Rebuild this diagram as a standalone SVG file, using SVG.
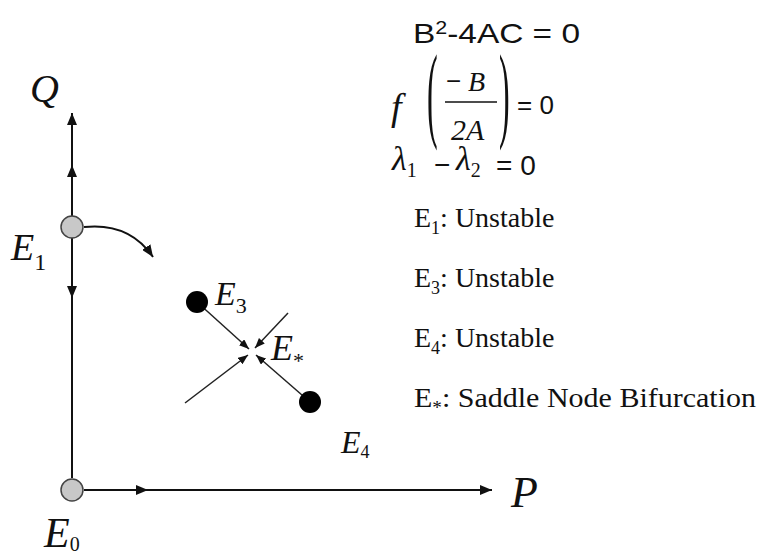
<svg xmlns="http://www.w3.org/2000/svg" width="759" height="558" viewBox="0 0 759 558">
<style>
.ax{stroke:#111;stroke-width:2;fill:none}
.ln{stroke:#222;stroke-width:1.5;fill:none}
.lbl{font-family:"Liberation Serif",serif;font-style:italic;fill:#111}
.sub{font-family:"Liberation Serif",serif;fill:#111}
.sans{font-family:"Liberation Sans",Arial,sans-serif;fill:#111}
.ser{font-family:"Liberation Serif",serif;fill:#111}
.gray{fill:#c8c8c8;stroke:#444;stroke-width:1.5}
.blk{fill:#000}
</style>
<defs>
<marker id="ah" viewBox="0 0 12 10" refX="12" refY="5" markerWidth="12" markerHeight="10" markerUnits="userSpaceOnUse" orient="auto">
<path d="M0,0 L12,5 L0,10 z" fill="#111"/>
</marker>
<marker id="as" viewBox="0 0 10 8" refX="10" refY="4" markerWidth="10" markerHeight="8" markerUnits="userSpaceOnUse" orient="auto">
<path d="M0,0 L10,4 L0,8 z" fill="#111"/>
</marker>
</defs>
<rect width="759" height="558" fill="#fff"/>
<g id="connectors">
<path class="ax" d="M72,478 V113" marker-end="url(#ah)"/>
<path class="ax" d="M72,180 V165" marker-end="url(#ah)"/>
<path class="ax" d="M72,285 V298" marker-end="url(#ah)"/>
<path class="ax" d="M84,490 H492" marker-end="url(#ah)"/>
<path class="ax" d="M130,490 H148" marker-end="url(#ah)"/>
<path class="ax" d="M84,227 C112,224 136,232 153,257" marker-end="url(#ah)"/>
<path class="ln" d="M197,302 L249,349" marker-end="url(#as)"/>
<path class="ln" d="M288,313 L255,348" marker-end="url(#as)"/>
<path class="ln" d="M185,403 L248,355" marker-end="url(#as)"/>
<path class="ln" d="M310,402 L256,355" marker-end="url(#as)"/>
</g>
<g id="E0"><circle class="gray" cx="72" cy="490" r="11"/>
<text class="lbl" x="44" y="547" font-size="42">E<tspan class="sub" font-style="normal" font-size="20" dy="4">0</tspan></text></g>
<g id="E1"><circle class="gray" cx="72" cy="227" r="11"/>
<text class="lbl" x="11" y="260" font-size="38">E<tspan class="sub" font-style="normal" font-size="24" dy="10">1</tspan></text></g>
<g id="E3"><circle class="blk" cx="197" cy="302" r="11"/>
<text class="lbl" x="215" y="305" font-size="34">E<tspan class="sub" font-style="normal" font-size="22" dy="8">3</tspan></text></g>
<g id="E4"><circle class="blk" cx="310" cy="402" r="11"/>
<text class="lbl" x="341" y="453" font-size="32">E<tspan class="sub" font-style="normal" font-size="18" dy="5">4</tspan></text></g>
<g id="Estar"><text class="lbl" x="271" y="360" font-size="36">E<tspan class="sub" font-style="normal" font-size="22" dy="8">*</tspan></text></g>
<g id="axislabels">
<text class="lbl" x="30" y="102" font-size="40">Q</text>
<text class="lbl" x="511" y="507" font-size="44">P</text>
</g>
<g id="formulas">
<text class="sans" x="413" y="43" font-size="28" textLength="167" lengthAdjust="spacingAndGlyphs">B<tspan font-size="18" dy="-9">2</tspan><tspan dy="9">-4AC = 0</tspan></text>
<text class="lbl" x="391" y="120" font-size="38">f</text>
<text class="ser" transform="scale(1,3.3)" x="427" y="38.9" font-size="32">(</text>
<text class="ser" transform="scale(1,3.3)" x="499" y="38.9" font-size="32">)</text>
<text class="sans" x="446" y="90" font-size="26">−</text>
<text class="lbl" x="468" y="91" font-size="28">B</text>
<line x1="445" y1="102" x2="497" y2="102" stroke="#111" stroke-width="1.5"/>
<text class="lbl" x="451" y="140" font-size="30">2A</text>
<text class="sans" x="517" y="114" font-size="26">= 0</text>
<text class="lbl" x="392" y="170" font-size="34">λ<tspan class="sub" font-style="normal" font-size="20" dy="7">1</tspan></text>
<text class="sans" x="434" y="174" font-size="28">−</text>
<text class="lbl" x="456" y="170" font-size="34">λ<tspan class="sub" font-style="normal" font-size="20" dy="7">2</tspan></text>
<text class="sans" x="496" y="175" font-size="28">= 0</text>
</g>
<g id="legend">
<text class="ser" x="414" y="227" font-size="28">E<tspan font-size="18" dy="7">1</tspan><tspan dy="-7">: Unstable</tspan></text>
<text class="ser" x="414" y="287" font-size="28">E<tspan font-size="18" dy="7">3</tspan><tspan dy="-7">: Unstable</tspan></text>
<text class="ser" x="414" y="347" font-size="28">E<tspan font-size="18" dy="7">4</tspan><tspan dy="-7">: Unstable</tspan></text>
<text class="ser" x="414" y="407" font-size="28" textLength="342" lengthAdjust="spacingAndGlyphs">E<tspan font-size="18" dy="7">*</tspan><tspan dy="-7">: Saddle Node Bifurcation</tspan></text>
</g>
</svg>
